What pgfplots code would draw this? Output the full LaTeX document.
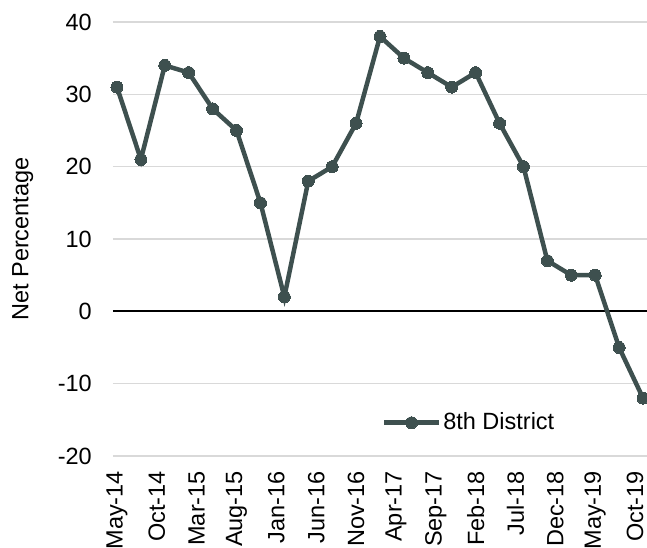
\documentclass[border=0pt]{standalone}
\usepackage{pgfplots}
\pgfplotsset{compat=1.18}
\usepackage{fontspec}
\setmainfont{Liberation Sans}
\definecolor{serie}{RGB}{62,80,79}
\definecolor{gridc}{RGB}{217,217,217}
\begin{document}
\fontsize{23.5}{28}\selectfont
\begin{tikzpicture}
\path[use as bounding box] (-113pt,-92pt) rectangle (534pt,456pt);
\begin{axis}[
  scale only axis,
  width=534pt, height=434pt,
  xmin=-0.5, xmax=66.5,
  ymin=-20, ymax=40,
  ytick={-20,-10,0,10,20,30,40},
  xtick={0,5,...,65},
  xticklabels={May-14,Oct-14,Mar-15,Aug-15,Jan-16,Jun-16,Nov-16,Apr-17,Sep-17,Feb-18,Jul-18,Dec-18,May-19,Oct-19},
  /pgf/number format/assume math mode=true,
  tick label style={font=\fontsize{23.5}{28}\selectfont},
  label style={font=\fontsize{23.5}{28}\selectfont},
  xticklabel style={rotate=90, anchor=east, inner sep=0pt, xshift=-15pt},
  yticklabel style={anchor=east, inner sep=0pt, xshift=-21pt},
  major tick length=0pt,
  axis line style={draw=none},
  ymajorgrids,
  grid style={gridc, line width=1.5pt},
  extra y ticks={0},
  extra y tick labels={},
  extra y tick style={grid style={black, line width=2pt}},
  ylabel={Net Percentage},
  ylabel style={at={(axis description cs:-0.169,0.5)}, anchor=center},
  clip=false,
  legend style={at={(rel axis cs:0.503,0.0767)}, anchor=west, draw=none, fill=none, inner sep=0pt,
    font=\fontsize{23.5}{28}\selectfont,
    legend image code/.code={\draw[mark repeat=2,mark phase=2,#1] plot coordinates {(0pt,0pt) (27.5pt,0pt) (55pt,0pt)};}},
  legend cell align=left,
]
\addplot[serie, line width=4.5pt, mark=*, mark size=6pt, mark options={fill=serie, draw=serie, line width=0pt}]
coordinates {
(0,31) (3,21) (6,34) (9,33) (12,28) (15,25) (18,15) (21,2) (24,18) (27,20)
(30,26) (33,38) (36,35) (39,33) (42,31) (45,33) (48,26) (51,20) (54,7) (57,5)
(60,5) (63,-5) (66,-12)
};
\addlegendentry{8th District}
\end{axis}
\end{tikzpicture}
\end{document}
